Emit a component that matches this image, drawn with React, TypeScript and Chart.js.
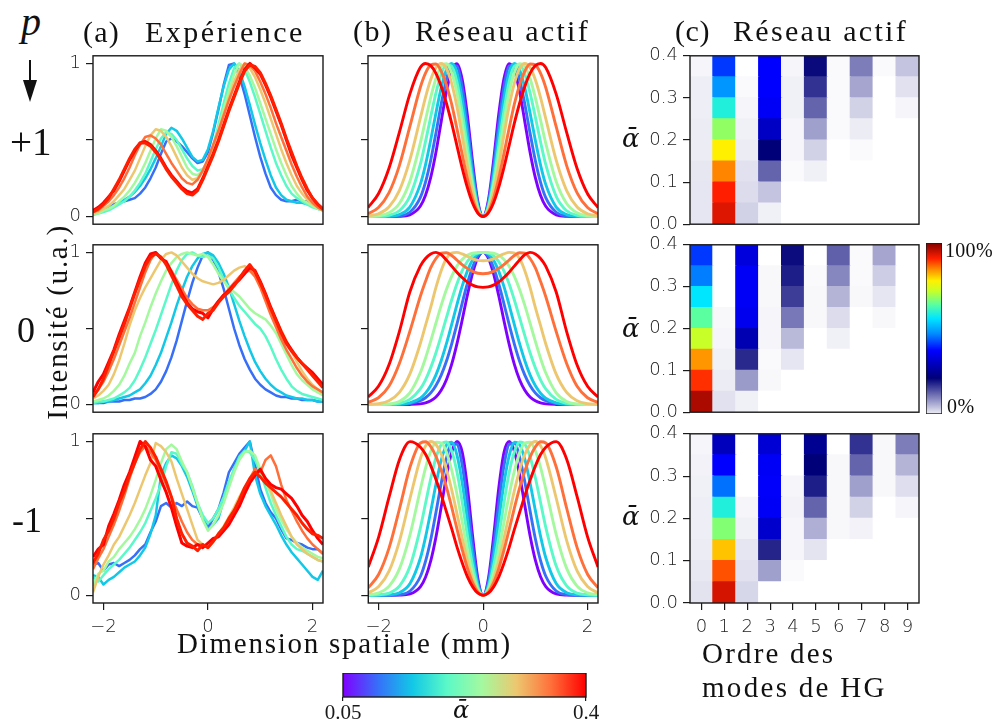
import React, { useEffect, useRef } from "react";
import { Chart, registerables } from "chart.js";
Chart.register(...registerables);

// ---------------- data ----------------
const X_EXP = [-2.2,-2.1,-2.0,-1.9,-1.8,-1.7,-1.6,-1.5,-1.4,-1.3,-1.2,-1.1,-1.0,-0.9,-0.8,-0.7,-0.6,-0.5,-0.4,-0.3,-0.2,-0.1,0,0.1,0.2,0.3,0.4,0.5,0.6,0.7,0.8,0.9,1.0,1.1,1.2,1.3,1.4,1.5,1.6,1.7,1.8,1.9,2.0,2.1,2.2];
const X_TH = [-2.2,-2.0,-1.8,-1.6,-1.4,-1.2,-1.1,-1.0,-0.9,-0.8,-0.7,-0.6,-0.5,-0.4,-0.3,-0.2,-0.1,0,0.1,0.2,0.3,0.4,0.5,0.6,0.7,0.8,0.9,1.0,1.1,1.2,1.4,1.6,1.8,2.0,2.2];
const X_TICKS = [-2, 0, 2];
const Y_TICKS_LINE = [0, 0.5, 1];
const ALPHA_BINS = [0, 0.05, 0.1, 0.15, 0.2, 0.25, 0.3, 0.35, 0.4];
const HEAT_Y_TICKS = [0, 0.1, 0.2, 0.3, 0.4];
const MODES = ["0","1","2","3","4","5","6","7","8","9"];
const CB_TICKS = [0.05, 0.4];

// experiment (a), p = +1 : blue, cyan, teal, light green, yellow, orange, red, red
const EXP_P1 = [
  [.02,.03,.05,.06,.08,.09,.1,.11,.12,.15,.19,.25,.32,.41,.49,.51,.49,.46,.42,.38,.35,.36,.42,.55,.7,.86,.99,1,.92,.8,.66,.52,.39,.28,.19,.14,.11,.1,.1,.11,.1,.1,.08,.06,.04],
  [.03,.04,.05,.06,.07,.09,.11,.13,.16,.2,.25,.31,.38,.46,.54,.58,.56,.51,.45,.39,.36,.37,.44,.56,.71,.85,.96,1,.95,.85,.73,.6,.48,.37,.27,.19,.14,.11,.1,.09,.09,.08,.07,.05,.04],
  [.01,.02,.03,.04,.06,.08,.1,.13,.17,.22,.28,.36,.44,.51,.55,.54,.5,.44,.38,.33,.3,.31,.36,.46,.6,.74,.87,.97,1,.96,.88,.78,.67,.56,.45,.35,.27,.2,.15,.12,.1,.08,.06,.05,.04],
  [.02,.02,.04,.05,.07,.1,.13,.17,.22,.28,.35,.43,.51,.57,.56,.52,.46,.39,.32,.28,.27,.3,.36,.46,.58,.7,.82,.93,1,.98,.92,.84,.74,.64,.54,.44,.35,.27,.2,.15,.11,.09,.07,.05,.04],
  [.02,.03,.05,.07,.1,.14,.18,.24,.3,.38,.46,.53,.57,.56,.52,.46,.39,.32,.27,.24,.25,.3,.37,.46,.56,.67,.78,.88,.96,1,.97,.91,.83,.74,.64,.54,.44,.35,.27,.2,.15,.11,.08,.06,.04],
  [.03,.04,.07,.1,.14,.19,.25,.32,.4,.47,.52,.53,.51,.47,.41,.35,.3,.25,.22,.21,.24,.3,.38,.47,.56,.66,.76,.85,.93,1,.99,.95,.88,.8,.71,.61,.52,.43,.34,.26,.19,.13,.09,.06,.04],
  [.04,.06,.09,.13,.17,.23,.3,.37,.43,.48,.49,.47,.43,.38,.32,.27,.23,.19,.165,.155,.18,.25,.33,.41,.5,.6,.7,.79,.88,.96,1,.97,.93,.86,.78,.69,.6,.5,.4,.32,.24,.17,.12,.08,.05],
  [.03,.05,.08,.12,.18,.24,.31,.38,.44,.48,.48,.46,.42,.37,.31,.26,.22,.18,.15,.14,.17,.24,.32,.4,.49,.59,.69,.78,.87,.95,.99,.98,.94,.87,.79,.7,.61,.51,.42,.33,.25,.18,.12,.08,.05],
];
// experiment (a), p = 0
const EXP_P0 = [
  [.01,.01,.01,.02,.02,.02,.03,.03,.04,.04,.05,.07,.1,.15,.22,.31,.42,.55,.68,.8,.9,.98,1,.95,.87,.76,.63,.5,.39,.3,.23,.17,.13,.1,.08,.06,.05,.05,.04,.04,.03,.03,.03,.02,.02],
  [.01,.01,.02,.02,.03,.04,.05,.06,.08,.1,.14,.19,.26,.34,.44,.54,.65,.75,.84,.91,.96,.99,1,.98,.93,.86,.77,.66,.55,.45,.36,.28,.22,.17,.13,.1,.08,.06,.05,.04,.04,.03,.03,.02,.02],
  [.01,.02,.02,.03,.04,.06,.08,.11,.16,.23,.31,.4,.49,.59,.69,.79,.88,.95,.99,1,.98,.97,.98,.96,.9,.82,.76,.7,.65,.61,.57,.53,.5,.45,.38,.3,.23,.17,.12,.09,.07,.06,.05,.04,.03],
  [.02,.03,.04,.06,.09,.13,.19,.27,.34,.45,.54,.64,.73,.81,.88,.93,.97,.99,1,.99,.98,.99,.97,.92,.86,.81,.77,.74,.71,.67,.63,.6,.58,.56,.52,.47,.4,.33,.26,.2,.16,.13,.1,.08,.06],
  [.04,.06,.09,.13,.2,.29,.4,.52,.62,.7,.77,.83,.89,.95,.99,1,.98,.94,.9,.86,.83,.81,.8,.79,.8,.82,.85,.88,.9,.91,.89,.86,.8,.72,.64,.56,.49,.42,.35,.28,.22,.17,.13,.1,.07],
  [.06,.1,.15,.22,.3,.39,.48,.57,.67,.77,.87,.95,1,.97,.93,.88,.82,.76,.7,.66,.63,.62,.62,.64,.68,.72,.76,.8,.84,.87,.88,.84,.77,.68,.59,.51,.43,.36,.3,.24,.19,.15,.12,.1,.08],
  [.08,.15,.2,.28,.36,.46,.55,.64,.74,.84,.93,.99,1,.96,.94,.87,.8,.73,.67,.63,.61,.6,.57,.63,.68,.72,.75,.79,.82,.86,.9,.88,.81,.73,.64,.56,.48,.41,.36,.31,.27,.24,.21,.17,.13],
  [.05,.1,.17,.26,.35,.44,.53,.63,.73,.82,.91,.97,.99,.97,.92,.85,.78,.71,.66,.62,.58,.56,.6,.62,.67,.71,.74,.78,.83,.88,.92,.87,.8,.72,.63,.55,.47,.4,.35,.31,.27,.23,.19,.15,.11],
];
// experiment (a), p = -1
const EXP_PM = [
  [.2,.21,.16,.2,.21,.19,.21,.23,.26,.3,.33,.41,.48,.58,.6,.57,.6,.58,.61,.58,.57,.5,.44,.5,.56,.67,.8,.86,.92,.96,1,.85,.69,.6,.54,.5,.43,.37,.36,.34,.33,.31,.3,.3,.27],
  [.13,.12,.07,.1,.12,.15,.18,.2,.22,.26,.31,.4,.52,.78,.86,.91,.89,.84,.77,.68,.58,.5,.43,.46,.5,.62,.72,.82,.9,.94,1,.78,.66,.58,.52,.46,.39,.33,.28,.24,.2,.16,.12,.1,.16],
  [.12,.09,.13,.17,.2,.23,.27,.31,.36,.41,.47,.55,.63,.72,.84,.93,.92,.85,.8,.71,.6,.52,.47,.5,.56,.64,.74,.82,.9,.94,.93,.88,.8,.7,.6,.52,.45,.38,.33,.3,.29,.27,.25,.23,.22],
  [.06,.14,.16,.22,.25,.3,.34,.38,.43,.49,.56,.65,.75,.86,.95,.98,.95,.87,.8,.7,.6,.49,.42,.46,.52,.6,.7,.8,.88,.93,.94,.91,.82,.74,.66,.56,.49,.43,.38,.34,.31,.29,.27,.25,.24],
  [.02,.12,.2,.26,.33,.38,.45,.52,.6,.69,.78,.86,.99,.97,.93,.87,.76,.66,.56,.46,.36,.33,.31,.35,.4,.45,.51,.57,.64,.7,.75,.8,.8,.76,.68,.6,.52,.45,.38,.33,.3,.27,.25,.23,.22],
  [.17,.24,.3,.38,.46,.55,.65,.76,.86,.93,.97,.93,.88,.8,.72,.64,.56,.48,.41,.36,.33,.33,.31,.35,.39,.44,.49,.55,.6,.68,.76,.82,.8,.88,.91,.84,.72,.62,.55,.48,.42,.37,.33,.3,.27],
  [.25,.3,.33,.45,.53,.62,.72,.8,.9,1,.97,.88,.84,.75,.67,.57,.45,.34,.32,.31,.33,.31,.34,.37,.38,.42,.46,.52,.58,.66,.73,.78,.82,.76,.72,.7,.69,.66,.63,.58,.52,.48,.42,.37,.33],
  [.21,.27,.36,.42,.5,.6,.68,.78,.86,.95,1,.96,.9,.82,.74,.64,.5,.4,.34,.32,.29,.33,.31,.35,.4,.44,.5,.55,.62,.7,.76,.8,.77,.73,.7,.67,.64,.6,.56,.52,.47,.43,.4,.39,.37],
];

// active grating model (b), alpha = 0.05 ... 0.4
const TH_P1 = [
  [0,0,0,.001,.011,.067,.139,.256,.42,.62,.815,.955,.999,.90,.665,.358,.101,0,.101,.358,.665,.90,.999,.955,.815,.62,.42,.256,.139,.067,.011,.001,0,0,0],
  [0,0,0,.004,.028,.124,.225,.368,.546,.734,.895,.988,.982,.845,.60,.315,.086,0,.086,.315,.60,.845,.982,.988,.895,.734,.546,.368,.225,.124,.028,.004,0,0,0],
  [0,0,.002,.013,.062,.21,.338,.50,.677,.84,.958,1,.94,.77,.529,.27,.072,0,.072,.27,.529,.77,.94,1,.958,.84,.677,.50,.338,.21,.062,.013,.002,0,0],
  [0,.001,.008,.038,.132,.34,.489,.652,.808,.93,.994,.982,.88,.69,.46,.227,.06,0,.06,.227,.46,.69,.88,.982,.994,.93,.808,.652,.489,.34,.132,.038,.008,.001,0],
  [.001,.005,.024,.085,.229,.48,.631,.779,.902,.98,.998,.94,.81,.615,.395,.195,.05,0,.05,.195,.395,.615,.81,.94,.998,.98,.902,.779,.631,.48,.229,.085,.024,.005,.001],
  [.004,.018,.062,.169,.368,.641,.779,.895,.973,1,.967,.87,.72,.529,.33,.16,.041,0,.041,.16,.33,.529,.72,.87,.967,1,.973,.895,.779,.641,.368,.169,.062,.018,.004],
  [.018,.059,.155,.333,.587,.843,.937,.991,.996,.95,.86,.735,.577,.41,.25,.117,.03,0,.03,.117,.25,.41,.577,.735,.86,.95,.996,.991,.937,.843,.587,.333,.155,.059,.018],
  [.059,.149,.314,.55,.80,.973,1,.986,.935,.85,.74,.61,.465,.32,.19,.088,.023,0,.023,.088,.19,.32,.465,.61,.74,.85,.935,.986,1,.973,.80,.55,.314,.149,.059],
];
const TH_P0 = [
  [0,0,0,0,.001,.005,.011,.025,.05,.094,.163,.264,.397,.553,.717,.862,.964,1,.964,.862,.717,.553,.397,.264,.163,.094,.05,.025,.011,.005,.001,0,0,0,0],
  [0,0,0,.001,.007,.025,.045,.077,.126,.194,.285,.398,.527,.664,.794,.902,.975,1,.975,.902,.794,.664,.527,.398,.285,.194,.126,.077,.045,.025,.007,.001,0,0,0],
  [0,0,0,.002,.011,.042,.075,.125,.195,.288,.40,.526,.655,.777,.877,.95,.99,1,.99,.95,.877,.777,.655,.526,.40,.288,.195,.125,.075,.042,.011,.002,0,0,0],
  [0,0,.002,.008,.034,.103,.163,.243,.341,.453,.571,.687,.792,.878,.94,.979,.996,1,.996,.979,.94,.878,.792,.687,.571,.453,.341,.243,.163,.103,.034,.008,.002,0,0],
  [0,0,.003,.02,.077,.209,.305,.417,.536,.652,.757,.843,.909,.954,.982,.995,.999,1,.999,.995,.982,.954,.909,.843,.757,.652,.536,.417,.305,.209,.077,.02,.003,0,0],
  [.001,.006,.025,.08,.20,.40,.52,.64,.77,.88,.96,.995,1,.99,.975,.958,.948,.945,.948,.958,.975,.99,1,.995,.96,.88,.77,.64,.52,.40,.20,.08,.025,.006,.001],
  [.015,.045,.12,.27,.48,.71,.81,.90,.96,.995,.998,.98,.95,.92,.895,.875,.863,.86,.863,.875,.895,.92,.95,.98,.998,.995,.96,.90,.81,.71,.48,.27,.12,.045,.015],
  [.05,.12,.26,.48,.74,.91,.96,.99,1,.985,.95,.91,.87,.835,.805,.785,.773,.77,.773,.785,.805,.835,.87,.91,.95,.985,1,.99,.96,.91,.74,.48,.26,.12,.05],
];
const TH_PM = [
  [0,0,0,.001,.009,.057,.121,.229,.386,.58,.779,.934,1,.93,.70,.38,.108,0,.108,.38,.70,.93,1,.934,.779,.58,.386,.229,.121,.057,.009,.001,0,0,0],
  [0,0,0,.004,.028,.124,.225,.368,.546,.734,.895,.988,.982,.845,.60,.315,.086,0,.086,.315,.60,.845,.982,.988,.895,.734,.546,.368,.225,.124,.028,.004,0,0,0],
  [0,0,.003,.017,.076,.244,.383,.552,.729,.882,.979,.995,.91,.73,.49,.247,.065,0,.065,.247,.49,.73,.91,.995,.979,.882,.729,.552,.383,.244,.076,.017,.003,0,0],
  [0,.003,.014,.061,.19,.442,.603,.764,.899,.982,.997,.935,.80,.605,.385,.19,.05,0,.05,.19,.385,.605,.80,.935,.997,.982,.899,.764,.603,.442,.19,.061,.014,.003,0],
  [.003,.016,.06,.175,.395,.692,.832,.939,.995,.99,.928,.81,.655,.475,.29,.14,.036,0,.036,.14,.29,.475,.655,.81,.928,.99,.995,.939,.832,.692,.395,.175,.06,.016,.003],
  [.016,.057,.159,.356,.631,.891,.972,1,.979,.917,.816,.683,.529,.371,.224,.104,.027,0,.027,.104,.224,.371,.529,.683,.816,.917,.979,1,.972,.891,.631,.356,.159,.057,.016],
  [.049,.137,.31,.566,.834,.99,.998,.965,.90,.81,.70,.57,.43,.295,.175,.081,.021,0,.021,.081,.175,.295,.43,.57,.70,.81,.90,.965,.998,.99,.834,.566,.31,.137,.049],
  [.184,.38,.641,.885,.999,.963,.915,.84,.75,.65,.54,.43,.313,.21,.12,.055,.014,0,.014,.055,.12,.21,.313,.43,.54,.65,.75,.84,.915,.963,.999,.885,.641,.38,.184],
];

// HG mode content (c), in %, one array per mode, from alpha bin [0,0.05] up to [0.35,0.4]
const HEAT_P1 = [
  [2.1,2.1,2.0,1.6,1.6,1.4,1.4,0.8],
  [93.5,91,85,78,68,59,48,41],
  [3.7,2.9,2.5,1.6,1.2,0.8,0.4,0],
  [1.2,4.9,12.8,21,30,36,37,37],
  [0,0,0.4,0.8,0.8,1.2,1.2,0.8],
  [0,0,1.2,3.7,7.8,12.8,16.9,20.2],
  [0,0,0,0,0.4,0.4,0.4,0.4],
  [0,0,0,0.4,1.6,3.7,7.4,10.7],
  [0,0,0,0,0,0,0,0.4],
  [0,0,0,0,0,0.8,2.5,4.9],
];
const HEAT_P0 = [
  [97,90,84,72,64,56,46,41],
  [2.5,1.6,1.2,0.8,0.6,0,0,0],
  [1.2,8.2,17.7,28,35,36,36,33],
  [0,0.6,0.4,0.8,0.8,0.6,0.6,0],
  [0,0,2.1,5.8,11.1,16,18.5,20],
  [0,0,0,0,0.6,0.6,0.4,0],
  [0,0,0,1.2,2.9,6.2,9.9,13.2],
  [0,0,0,0,0,0.6,0.4,0.4],
  [0,0,0,0,0.6,2.1,4.1,7.4],
  [0,0,0,0,0,0,0,0],
];
const HEAT_PM = [
  [2.3,1.9,1.6,1.4,1.4,1.2,1.1,0.8],
  [94,88,81,67,59,45,37,29],
  [3.3,2.5,2.1,1.2,0.8,0,0,0],
  [0,7.8,18,31,36,36.5,36,32],
  [0,0.4,0.8,0.8,1.1,0.8,0,0],
  [0,0,2.2,6.6,12.8,18.5,21,24],
  [0,0,0,0.6,0.6,0.6,0.6,0],
  [0,0,0,1.1,3.7,7.8,12.8,16.9],
  [0,0,0,0,0,0.6,0.6,0.6],
  [0,0,0,0,0.8,2.7,6.2,10.7],
];

// ---------------- styles ----------------
const RAINBOW = ["#8000ff", "#376ff9", "#12c8e6", "#5bf9c7", "#a4f99f", "#edc76f", "#ff6f39", "#ff0000"];
const EXP_COLORS = ["#376ff9", "#12c8e6", "#5bf9c7", "#a4f99f", "#edc76f", "#ff6f39", "#ff0000", "#ff1e00"];
const EXP_WIDTHS = [2.5, 2.5, 2.5, 2.5, 2.5, 2.5, 3, 3];
const TH_WIDTHS = [2.9, 2.9, 2.9, 2.9, 2.9, 2.9, 2.9, 2.9];
const HEAT_STOPS = [
  [0, 255, 255, 255],
  [0.21, 0, 0, 120],
  [0.37, 0, 0, 255],
  [0.47, 0, 140, 255],
  [0.56, 0, 230, 255],
  [0.64, 90, 255, 160],
  [0.72, 200, 255, 40],
  [0.78, 255, 240, 0],
  [0.84, 255, 150, 0],
  [0.91, 255, 30, 0],
  [1, 128, 0, 0],
];
const TICK_FONT = { family: "DejaVu Sans", size: 18, weight: "300" };
const INK = "#1a1a1a";
const TICK_INK = "#222222";

function heatColor(t: number) {
  const v = Math.max(0, Math.min(1, t));
  for (let i = 0; i < HEAT_STOPS.length - 1; i++) {
    const a = HEAT_STOPS[i], b = HEAT_STOPS[i + 1];
    if (v <= b[0]) {
      const f = (v - a[0]) / (b[0] - a[0]);
      const c = [1, 2, 3].map((k) => Math.round(a[k] + (b[k] - a[k]) * f));
      return `rgb(${c[0]},${c[1]},${c[2]})`;
    }
  }
  return "rgb(128,0,0)";
}

const framePlugin = {
  id: "frame",
  afterDraw(chart: any) {
    const { ctx, chartArea: a } = chart;
    ctx.save();
    ctx.strokeStyle = INK;
    ctx.lineWidth = 1.4;
    ctx.strokeRect(a.left, a.top, a.right - a.left, a.bottom - a.top);
    ctx.restore();
  },
};

const BASE = {
  responsive: false,
  maintainAspectRatio: false,
  animation: false,
  devicePixelRatio: 1,
  events: [],
  plugins: { legend: { display: false }, tooltip: { enabled: false } },
};

const PT = 14, PR = 8, XH = 36, PB = 14;
const COL_L = [93, 368, 690];
const COL_R = [323, 598, 919];
const ROW_T = [54, 243, 432];
const ROW_B = [226, 414, 603];

function boxFor(col: number, row: number, yw: number) {
  const bottom = row === 2 ? XH : PB;
  return {
    left: COL_L[col] - yw,
    top: ROW_T[row] - PT,
    width: COL_R[col] - COL_L[col] + yw + PR,
    height: ROW_B[row] - ROW_T[row] + PT + bottom,
  };
}

function lineConfig(xs: number[], series: number[][], colors: string[], widths: number[], smooth: boolean, row: number, yw: number, yLabels: boolean) {
  const last = row === 2;
  return {
    type: "line",
    data: {
      datasets: series.map((s, i) => ({
        data: s.map((v, j) => ({ x: xs[j], y: v })),
        borderColor: colors[i],
        borderWidth: widths[i],
        pointRadius: 0,
        fill: false,
        tension: 0,
        borderJoinStyle: "round",
        cubicInterpolationMode: smooth ? "monotone" : "default",
        order: series.length - 1 - i,
      })),
    },
    options: {
      ...BASE,
      layout: { padding: { top: PT, right: PR, left: 0, bottom: last ? 0 : PB } },
      scales: {
        x: {
          type: "linear",
          min: -2.2,
          max: 2.2,
          display: last,
          afterBuildTicks: (s: any) => { s.ticks = X_TICKS.map((v) => ({ value: v })); },
          afterFit: (s: any) => { if (last) s.height = XH; },
          ticks: { font: TICK_FONT, color: TICK_INK, padding: 7, maxRotation: 0, autoSkip: false, callback: (v: number) => (v < 0 ? "\u2212" + Math.abs(v) : String(v)) },
          grid: { drawOnChartArea: false, drawTicks: true, tickLength: 7, color: INK, lineWidth: 1.2 },
          border: { display: false },
        },
        y: {
          type: "linear",
          min: -0.05,
          max: 1.05,
          afterBuildTicks: (s: any) => { s.ticks = Y_TICKS_LINE.map((v) => ({ value: v })); },
          afterFit: (s: any) => { s.width = yw; },
          ticks: { font: TICK_FONT, color: TICK_INK, padding: 5, autoSkip: false, callback: (v: number) => (!yLabels || v === 0.5 ? "" : String(v)) },
          grid: { drawOnChartArea: false, drawTicks: true, tickLength: 7, color: INK, lineWidth: 1.2 },
          border: { display: false },
        },
      },
    },
    plugins: [framePlugin],
  };
}

function heatConfig(heat: number[][], row: number) {
  const last = row === 2;
  return {
    type: "bar",
    data: {
      labels: MODES,
      datasets: ALPHA_BINS.slice(0, -1).map((a0, r) => ({
        data: MODES.map(() => [a0, ALPHA_BINS[r + 1]]),
        backgroundColor: heat.map((col) => heatColor(col[r] / 100)),
        borderWidth: 0,
        barPercentage: 1,
        categoryPercentage: 1,
        grouped: false,
        inflateAmount: 0.6,
      })),
    },
    options: {
      ...BASE,
      layout: { padding: { top: PT, right: PR, left: 0, bottom: last ? 0 : PB } },
      scales: {
        x: {
          type: "category",
          display: last,
          offset: true,
          afterFit: (s: any) => { if (last) s.height = XH; },
          ticks: { font: TICK_FONT, color: TICK_INK, padding: 7, maxRotation: 0, autoSkip: false },
          grid: { offset: false, drawOnChartArea: false, drawTicks: true, tickLength: 7, color: INK, lineWidth: 1.2 },
          border: { display: false },
        },
        y: {
          type: "linear",
          min: 0,
          max: 0.4,
          afterBuildTicks: (s: any) => { s.ticks = HEAT_Y_TICKS.map((v) => ({ value: v })); },
          afterFit: (s: any) => { s.width = 52; },
          ticks: { font: TICK_FONT, color: TICK_INK, padding: 5, autoSkip: false, callback: (v: number) => v.toFixed(1) },
          grid: { drawOnChartArea: false, drawTicks: true, tickLength: 7, color: INK, lineWidth: 1.2 },
          border: { display: false },
        },
      },
    },
    plugins: [framePlugin],
  };
}

function gradientFill(horizontal: boolean, stops: [number, string][]) {
  return (c: any) => {
    const ch = c.chart;
    const a = ch.chartArea;
    if (!a) return "#ffffff";
    const g = horizontal
      ? ch.ctx.createLinearGradient(a.left, 0, a.right, 0)
      : ch.ctx.createLinearGradient(0, a.bottom, 0, a.top);
    stops.forEach(([t, col]) => g.addColorStop(t, col));
    return g;
  };
}

function verticalBarConfig() {
  const stops: [number, string][] = HEAT_STOPS.map((s) => [s[0], `rgb(${s[1]},${s[2]},${s[3]})`]);
  stops[0] = [0, "rgb(238,238,246)"];
  return {
    type: "bar",
    data: { labels: [""], datasets: [{ data: [[0, 1]], backgroundColor: gradientFill(false, stops), borderWidth: 0, barPercentage: 1, categoryPercentage: 1 }] },
    options: {
      ...BASE,
      layout: { padding: 0 },
      scales: { x: { display: false }, y: { display: false, min: 0, max: 1 } },
    },
    plugins: [framePlugin],
  };
}

function horizontalBarConfig() {
  const stops: [number, string][] = RAINBOW.map((c, i) => [i / (RAINBOW.length - 1), c]);
  return {
    type: "bar",
    data: { labels: [""], datasets: [{ data: [[CB_TICKS[0], CB_TICKS[1]]], backgroundColor: gradientFill(true, stops), borderWidth: 0, barPercentage: 1, categoryPercentage: 1 }] },
    options: {
      ...BASE,
      indexAxis: "y",
      layout: { padding: { left: 25, right: 25, top: 0, bottom: 0 } },
      scales: {
        x: {
          type: "linear",
          min: CB_TICKS[0],
          max: CB_TICKS[1],
          afterBuildTicks: (s: any) => { s.ticks = CB_TICKS.map((v) => ({ value: v })); },
          afterFit: (s: any) => { s.height = 22; },
          ticks: { font: { family: "Liberation Serif", size: 21 }, color: INK, padding: 0, maxRotation: 0, autoSkip: false, callback: (v: number) => String(v) },
          grid: { drawOnChartArea: false, drawTicks: true, tickLength: 4, color: INK, lineWidth: 1.2 },
          border: { display: false },
        },
        y: { type: "category", display: false },
      },
    },
    plugins: [framePlugin],
  };
}

function ChartCanvas({ box, make }: { box: { left: number; top: number; width: number; height: number }; make: () => any }) {
  const ref = useRef<HTMLCanvasElement | null>(null);
  useEffect(() => {
    const chart = new Chart(ref.current as HTMLCanvasElement, make());
    return () => chart.destroy();
  }, []);
  return (
    <canvas
      ref={ref}
      width={box.width}
      height={box.height}
      style={{ position: "absolute", left: box.left, top: box.top, width: box.width, height: box.height }}
    />
  );
}

function T({ x, base, size, ls = 0, italic = false, family = "Liberation Serif", children }: any) {
  return (
    <div
      style={{
        position: "absolute",
        left: x,
        top: base - 0.84 * size,
        fontFamily: family,
        fontSize: size,
        lineHeight: 1,
        letterSpacing: ls,
        fontStyle: italic ? "italic" : "normal",
        whiteSpace: "nowrap",
        color: "#111",
      }}
    >
      {children}
    </div>
  );
}

export default function App() {
  const exp = [EXP_P1, EXP_P0, EXP_PM];
  const th = [TH_P1, TH_P0, TH_PM];
  const heat = [HEAT_P1, HEAT_P0, HEAT_PM];
  return (
    <div style={{ position: "absolute", left: 0, top: 0, width: 995, height: 719, background: "#fff", overflow: "hidden" }}>
      {[0, 1, 2].map((row) => (
        <React.Fragment key={row}>
          <ChartCanvas box={boxFor(0, row, 45)} make={() => lineConfig(X_EXP, exp[row], EXP_COLORS, EXP_WIDTHS, false, row, 45, true)} />
          <ChartCanvas box={boxFor(1, row, 10)} make={() => lineConfig(X_TH, th[row], RAINBOW, TH_WIDTHS, true, row, 10, false)} />
          <ChartCanvas box={boxFor(2, row, 52)} make={() => heatConfig(heat[row], row)} />
        </React.Fragment>
      ))}
      <ChartCanvas box={{ left: 926, top: 243, width: 16, height: 171 }} make={verticalBarConfig} />
      <ChartCanvas box={{ left: 318, top: 673, width: 293, height: 46 }} make={horizontalBarConfig} />

      <T x={83} base={42} size={30} ls={1.2}>(a)</T>
      <T x={145} base={42} size={30} ls={2.5}>Expérience</T>
      <T x={353} base={41} size={30} ls={1.5}>(b)</T>
      <T x={415} base={41} size={30} ls={2.3}>Réseau actif</T>
      <T x={675} base={41} size={30} ls={0.6}>(c)</T>
      <T x={733} base={41} size={30} ls={2.3}>Réseau actif</T>

      <T x={21} base={36} size={40} italic>p</T>
      <div style={{ position: "absolute", left: 29, top: 60, width: 2, height: 24, background: "#111" }} />
      <div style={{ position: "absolute", left: 23, top: 80, width: 0, height: 0, borderLeft: "7px solid transparent", borderRight: "7px solid transparent", borderTop: "22px solid #111" }} />

      <T x={10} base={155} size={39}>+1</T>
      <T x={17} base={342} size={36}>0</T>
      <T x={12} base={532} size={36}>-1</T>

      <div
        style={{
          position: "absolute",
          left: 57,
          top: 322,
          transform: "translate(-50%, -50%) rotate(-90deg)",
          fontFamily: "Liberation Serif",
          fontSize: 29,
          lineHeight: 1,
          letterSpacing: 1.7,
          whiteSpace: "nowrap",
          color: "#111",
        }}
      >
        Intensité (u.a.)
      </div>

      <T x={177} base={653} size={29} ls={1.75}>Dimension spatiale (mm)</T>
      <T x={702} base={663} size={29} ls={2.2}>Ordre des</T>
      <T x={702} base={697} size={29} ls={2.3}>modes de HG</T>

      <T x={622} base={147} size={26} italic family="DejaVu Serif">ᾱ</T>
      <T x={622} base={337} size={26} italic family="DejaVu Serif">ᾱ</T>
      <T x={622} base={525} size={26} italic family="DejaVu Serif">ᾱ</T>

      <T x={945} base={257} size={20} ls={0.3}>100%</T>
      <T x={947} base={413} size={20} ls={0.6}>0%</T>
      <T x={453} base={718} size={24} italic family="DejaVu Serif">ᾱ</T>
    </div>
  );
}
